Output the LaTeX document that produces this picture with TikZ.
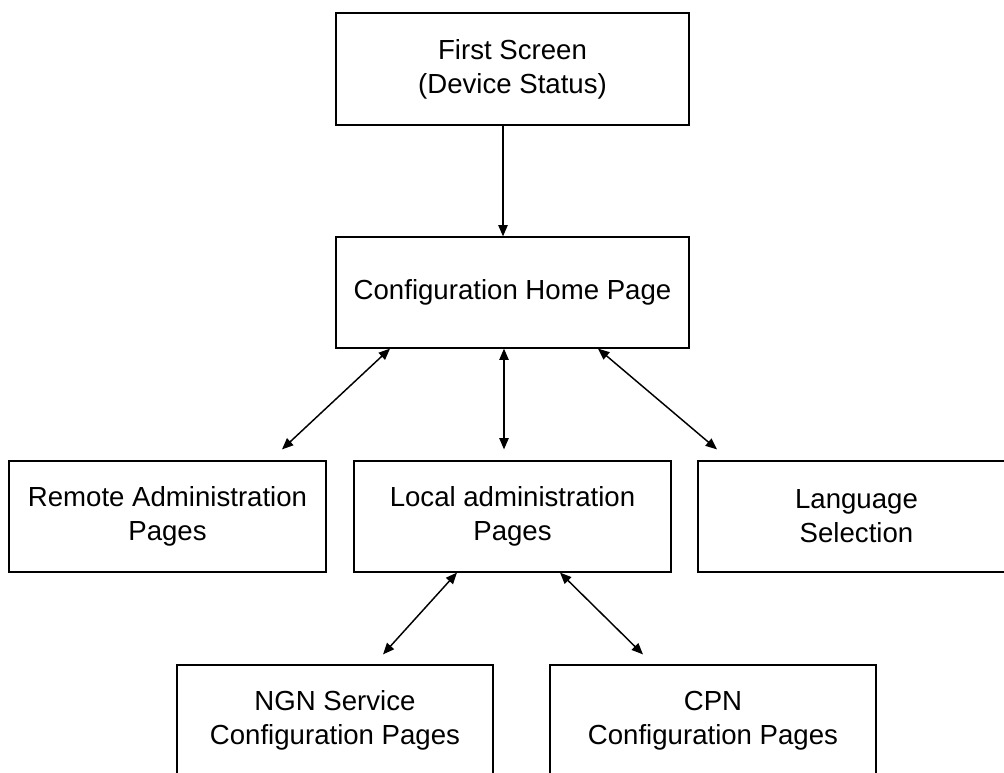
\documentclass[tikz,border=0pt]{standalone}
\usepackage{fontspec}
\setmainfont{Liberation Sans}
\usetikzlibrary{arrows.meta,calc}

\def\pxu{0.75pt}

\tikzset{
  pagebox/.style={draw=black, line width=0.9pt, inner sep=0pt, align=center,
    minimum height=111*\pxu,
    font=\fontsize{20.7}{25.5}\selectfont},
  tip/.tip={Triangle[length=8.5pt,width=7pt]},
  link/.style={line width=1.1pt, -tip},
  biglink/.style={line width=1.1pt, tip-tip}
}

\begin{document}
\begin{tikzpicture}[x=0.75pt, y=-0.75pt]
  \useasboundingbox (0,0) rectangle (1004,772);
  \clip (0,0) rectangle (1004,772);

  % page boxes
  \node[pagebox, minimum width=353*\pxu, minimum height=112*\pxu] (fs) at (512.5,69)
    {First Screen\\(Device Status)};
  \node[pagebox, minimum width=353*\pxu] (cfg) at (512.5,292.5)
    {Configuration Home Page};
  \node[pagebox, minimum width=317*\pxu] (rem) at (167.5,516.5)
    {Remote Administration\\Pages};
  \node[pagebox, minimum width=317*\pxu] (loc) at (512.5,516.5)
    {Local administration\\Pages};
  \node[pagebox, minimum width=317*\pxu] (lang) at (856.5,516.5)
    {Language\\Selection};
  \node[pagebox, minimum width=316*\pxu] (ngn) at (335,720.5)
    {NGN Service\\Configuration Pages};
  \node[pagebox, minimum width=326*\pxu] (cpn) at (713,720.5)
    {CPN\\Configuration Pages};

  % navigation links
  \draw[link] ($(fs.south)+(-9.5,0)$) -- ($(cfg.north)+(-9.5,0)$);
  \draw[biglink] ($(cfg.south)+(-122.5,0)$) -- ($(rem.north)+(114.5,-11)$);
  \draw[biglink] ($(cfg.south)+(-8.5,0)$) -- ($(loc.north)+(-8.5,-11)$);
  \draw[biglink] ($(cfg.south)+(85.5,0)$) -- ($(lang.north)+(-139.5,-11)$);
  \draw[biglink] ($(loc.south)+(-55.5,0)$) -- ($(ngn.north)+(48,-10)$);
  \draw[biglink] ($(loc.south)+(47.5,0)$) -- ($(cpn.north)+(-70,-10)$);
\end{tikzpicture}
\end{document}
